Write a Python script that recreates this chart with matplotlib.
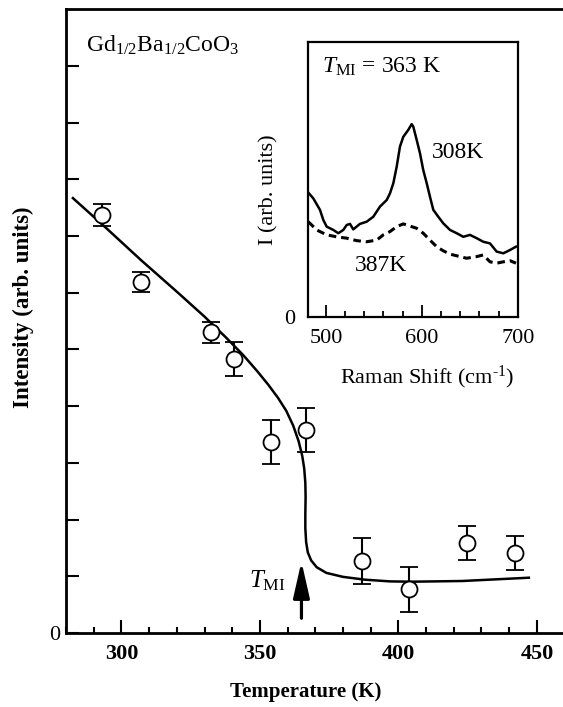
import matplotlib
matplotlib.use("Agg")
import matplotlib.pyplot as plt
from matplotlib.ticker import MultipleLocator

plt.rcParams['font.family'] = ['Liberation Serif', 'DejaVu Serif']
plt.rcParams['mathtext.fontset'] = 'custom'
plt.rcParams['mathtext.rm'] = 'Liberation Serif'
plt.rcParams['mathtext.it'] = 'Liberation Serif:italic'
plt.rcParams['mathtext.bf'] = 'Liberation Serif:bold'

# main panel: integrated intensity vs temperature
temp = [293.1, 306.9, 332.2, 340.6, 353.9, 366.6, 386.7, 403.8, 424.8, 442.1]
intensity = [7.37, 6.19, 5.30, 4.83, 3.37, 3.58, 1.27, 0.77, 1.58, 1.41]
intensity_err = [0.20, 0.18, 0.19, 0.30, 0.39, 0.38, 0.40, 0.40, 0.30, 0.30]

# guide-to-the-eye curve
fit_temp = [282.5, 295.0, 307.0, 320.0, 330.0, 338.0, 344.0, 349.0, 353.0,
            356.5, 359.5, 362.0, 364.0, 365.3, 366.0, 366.4, 366.5, 366.4,
            366.4, 366.7, 367.3, 368.5, 370.5, 374.0, 380.0, 388.0, 397.0,
            405.0, 423.0, 447.1]
fit_int = [7.67, 7.12, 6.58, 6.02, 5.58, 5.20, 4.90, 4.62, 4.38,
           4.15, 3.92, 3.66, 3.38, 3.12, 2.90, 2.65, 2.40, 2.10,
           1.85, 1.60, 1.42, 1.28, 1.16, 1.06, 0.99, 0.94, 0.91,
           0.905, 0.917, 0.975]

# inset: Raman spectra
raman_308 = [481.6, 486.8, 493.8, 497.3, 500.8, 507.7, 512.9, 518.1, 521.7, 525.1,
             528.5, 535.5, 542.5, 549.4, 556.4, 563.4, 566.8, 570.3, 573.8, 577.2,
             580.7, 585.9, 589.4, 591.1, 594.7, 598.1, 601.5, 605.1, 608.5, 612.0,
             617.2, 622.4, 629.4, 636.4, 643.3, 650.2, 657.2, 664.1, 671.1, 678.1,
             685.0, 692.0, 698.2]
spec_308 = [4.51, 4.30, 3.88, 3.51, 3.27, 3.15, 3.03, 3.15, 3.33, 3.37,
            3.17, 3.37, 3.45, 3.63, 4.00, 4.24, 4.48, 4.85, 5.45, 6.18,
            6.54, 6.79, 7.00, 6.91, 6.42, 5.94, 5.33, 4.85, 4.36, 3.88,
            3.63, 3.39, 3.15, 3.03, 2.90, 2.97, 2.85, 2.72, 2.66, 2.36,
            2.30, 2.42, 2.54]
raman_387 = [481.6, 490.4, 500.8, 511.2, 521.7, 532.1, 542.5, 553.0, 559.8, 566.8,
             573.8, 580.7, 587.7, 594.7, 601.5, 608.5, 615.5, 622.4, 629.4, 639.8,
             646.7, 657.2, 664.1, 671.1, 678.1, 685.0, 692.0, 698.2]
spec_387 = [3.45, 3.15, 2.97, 2.90, 2.85, 2.76, 2.72, 2.78, 2.97, 3.09,
            3.27, 3.37, 3.29, 3.21, 3.03, 2.78, 2.54, 2.39, 2.27, 2.18,
            2.12, 2.18, 2.24, 1.99, 1.94, 1.99, 2.03, 1.94]

fig = plt.figure(figsize=(5.63, 7.07), dpi=100)
ax = fig.add_axes([66 / 563, 74 / 707, 498.6 / 563, 623.7 / 707])

ax.plot(fit_temp, fit_int, color='black', lw=1.8, zorder=2,
        solid_joinstyle='round')
ax.errorbar(temp, intensity, yerr=intensity_err, fmt='o', ms=11.5, mfc='white',
            mec='black', mew=1.3, ecolor='black', elinewidth=1.5, capsize=6.5,
            capthick=1.5, zorder=3)

ax.set_xlim(280, 460)
ax.set_ylim(0, 11)
ax.xaxis.set_minor_locator(MultipleLocator(10))
ax.set_xticks([300, 350, 400, 450])
ax.set_yticks(range(0, 11))
ax.set_yticklabels(['0'] + [''] * 10)
ax.tick_params(axis='x', which='major', direction='in', length=9.5, width=1.5,
               labelsize=16, pad=8)
ax.tick_params(axis='x', which='minor', direction='in', length=4.5, width=1.5)
ax.tick_params(axis='y', direction='in', length=9.5, width=1.5, labelsize=16, pad=4)
for lab in ax.get_xticklabels():
    lab.set_fontweight('bold')
for s in ['left', 'bottom', 'top']:
    ax.spines[s].set_linewidth(2)
ax.spines['right'].set_visible(False)

ax.set_xlabel('Temperature (K)', fontsize=15, fontweight='bold')
ax.xaxis.set_label_coords(0.481, -0.095)
ax.xaxis.label.set_va('center')
ax.set_ylabel('Intensity (arb. units)', fontsize=16.5, fontweight='bold')
ax.yaxis.set_label_coords(-0.086, 0.523)
ax.yaxis.label.set_va('center')

ax.text(0.04, 0.943, r'Gd$_{1/2}$Ba$_{1/2}$CoO$_3$', transform=ax.transAxes,
        fontsize=17, ha='left', va='center')

ax.annotate('', xy=(365.0, 1.26), xytext=(365.0, 0.26),
            arrowprops=dict(arrowstyle='-|>,head_length=1.1,head_width=0.25',
                            lw=2.3, color='black', shrinkA=0, shrinkB=0,
                            mutation_scale=20))
ax.text(359.4, 0.93, r'$T_{\rm MI}$', fontsize=18, ha='right', va='center')

# inset
ins = fig.add_axes([307.7 / 563, (707 - 316.5) / 707, 210 / 563, 274.8 / 707])
ins.plot(raman_308, spec_308, color='black', lw=1.8)
ins.plot(raman_387, spec_387, color='black', lw=2.2, linestyle=(0, (2.5, 1.6)))
ins.set_xlim(481, 700)
ins.set_ylim(0, 10)
ins.set_xticks([500, 600, 700])
ins.xaxis.set_minor_locator(MultipleLocator(20))
ins.set_yticks([0])
ins.tick_params(axis='x', which='major', direction='in', length=8.5, width=1.3,
                labelsize=16, pad=9)
ins.tick_params(axis='x', which='minor', direction='in', length=4.5, width=1.3)
ins.tick_params(axis='y', length=0, labelsize=16, pad=9)
for s in ins.spines.values():
    s.set_linewidth(1.6)
ins.set_xlabel('Raman Shift (cm$^{\\rm \u2010 1}$)', fontsize=16)
ins.xaxis.set_label_coords(0.568, -0.22)
ins.xaxis.label.set_va('center')
ins.set_ylabel('I (arb. units)', fontsize=16)
ins.yaxis.set_label_coords(-0.184, 0.46)
ins.yaxis.label.set_va('center')

ins.text(0.068, 0.948, r'$T_{\rm MI}$ = 363 K', transform=ins.transAxes,
         fontsize=17, ha='left', va='top')
ins.text(0.59, 0.595, '308K', transform=ins.transAxes, fontsize=17,
         ha='left', va='center')
ins.text(0.225, 0.187, '387K', transform=ins.transAxes, fontsize=17,
         ha='left', va='center')

fig.savefig('out.png', dpi=100)
